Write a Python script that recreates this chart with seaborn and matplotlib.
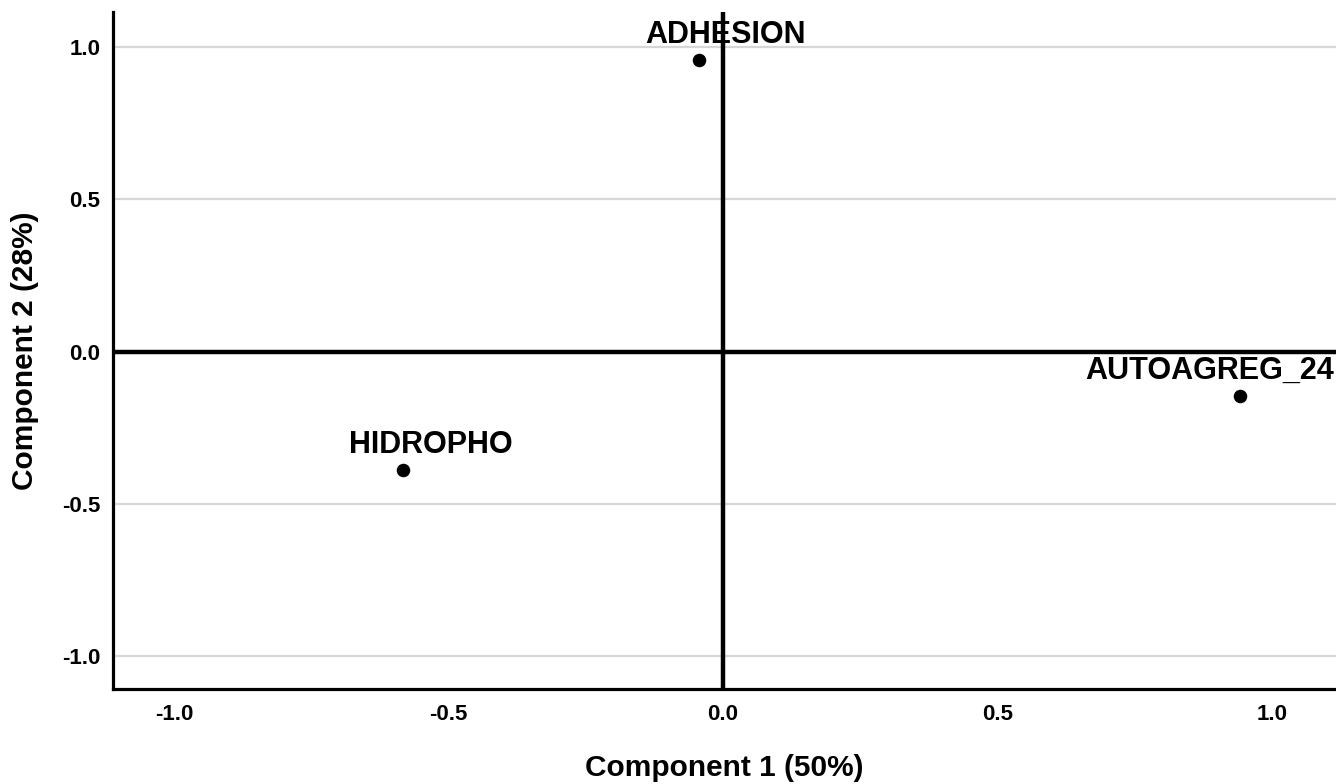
import matplotlib
matplotlib.use("Agg")
import matplotlib.pyplot as plt
import seaborn as sns
import pandas as pd

# data
variables = ["ADHESION", "AUTOAGREG_24", "HIDROPHO"]
comp1 = [-0.043, 0.942, -0.583]
comp2 = [0.958, -0.145, -0.388]
ticks = [-1.0, -0.5, 0.0, 0.5, 1.0]
tick_labels = ["-1.0", "-0.5", "0.0", "0.5", "1.0"]

df = pd.DataFrame({"var": variables, "c1": comp1, "c2": comp2})

sns.set_theme(style="white")
plt.rcParams["font.family"] = ["Liberation Sans", "DejaVu Sans"]
plt.rcParams["font.weight"] = "bold"
plt.rcParams["text.color"] = "black"
plt.rcParams["axes.labelcolor"] = "black"
plt.rcParams["xtick.color"] = "black"
plt.rcParams["ytick.color"] = "black"

fig = plt.figure(figsize=(13.36, 7.84), dpi=100)
ax = fig.add_axes([113/1336, 95/784, 1 - 113/1336, (689-12)/784])

ax.set_xlim(-1.111, 1.117)
ax.set_ylim(-1.108, 1.115)

for t in ticks:
    ax.axhline(t, color="#d6d6d6", lw=1.6, zorder=0)
ax.axhline(0, color="black", lw=3.2, zorder=1)
ax.axvline(0, color="black", lw=3.2, zorder=1)

sns.scatterplot(data=df, x="c1", y="c2", ax=ax, color="black", s=95,
                edgecolor="black", linewidth=0, zorder=3, legend=False)

label_style = {"ADHESION": (26, "center"), "HIDROPHO": (28, "center"),
               "AUTOAGREG_24": (94, "right")}
for name, x, y in zip(variables, comp1, comp2):
    dx, ha = label_style[name]
    ax.annotate(name, (x, y), xytext=(dx, 17), textcoords="offset pixels",
                ha=ha, va="baseline", fontsize=22, fontweight="bold",
                color="black", annotation_clip=False, zorder=4)

ax.set_xticks(ticks)
ax.set_xticklabels(tick_labels)
ax.set_yticks(ticks)
ax.set_yticklabels(tick_labels)
ax.tick_params(axis="both", length=0, labelsize=16, labelcolor="black")
ax.tick_params(axis="x", pad=11)
ax.tick_params(axis="y", pad=9)
for lab in ax.get_xticklabels() + ax.get_yticklabels():
    lab.set_fontweight("bold")

ax.set_xlabel("Component 1 (50%)", fontsize=21.5, fontweight="bold", color="black")
ax.set_ylabel("Component 2 (28%)", fontsize=21.5, fontweight="bold", color="black")
ax.xaxis.label.set_va("baseline")
ax.xaxis.set_label_coords(0.5, (689 - 776) / 677)
ax.yaxis.label.set_va("center")
ax.yaxis.set_label_coords((25 - 113) / 1223, 0.5)

for s in ["top", "right"]:
    ax.spines[s].set_visible(False)
for s in ["left", "bottom"]:
    ax.spines[s].set_color("black")
    ax.spines[s].set_linewidth(2.3)
ax.grid(False)

fig.savefig("out.png", dpi=100)
